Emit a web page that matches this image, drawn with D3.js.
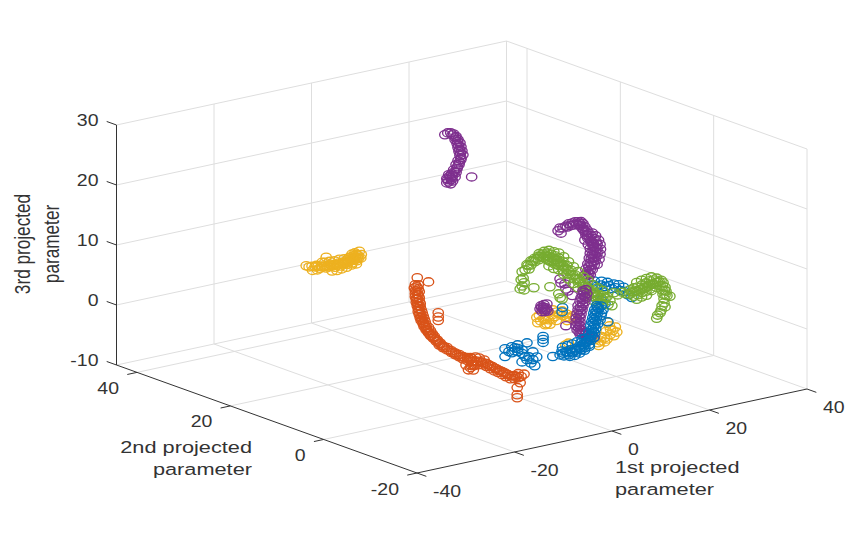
<!DOCTYPE html>
<html>
<head>
<meta charset="utf-8">
<script src="https://cdnjs.cloudflare.com/ajax/libs/d3/7.8.5/d3.min.js"></script>
<style>
body { margin: 0; background: white; }
text { font-family: "Liberation Sans", Arial, sans-serif; fill: #333; }
</style>
</head>
<body>
<svg id="chart" width="847" height="533"></svg>
<script>
"use strict";

//Axis limits and tick labels
var xTicks = [-40, -20, 0, 20, 40];
var yTicks = [-20, 0, 20, 40];
var zTicks = [-10, 0, 10, 20, 30];
var yMax = 44.4;

//Every cloud is a list of [1st, 3rd] projected parameters,
//the 2nd parameter of the cloud is given in the table further down
var purpleTop = [[4,27.5],[4.6,27.7],[5.2,27.6],[5.8,27.3],[6.3,26.8],[6.7,26.2],[6.1,26.3],[7.1,25.6],[6.5,25.6],[7.3,24.9],[6.7,24.9],[7.5,24.2],[6.9,24.2],[7.7,23.5],[7.1,23.5],[7.3,22.8],[6.7,22.7],[6.9,22],[6.3,22.1],[6.5,21.4],[5.8,21.3],[6.3,20.8],[5.4,20.7],[4.8,20.7],[6.1,20.1],[5.2,20.1],[4.4,20.1],[5.6,19.5],[4.8,19.5],[5.2,19.1],[4.4,19.4],[9.5,19.5],
	[5.5,27.2],[6.2,26.6],[6.6,25.9],[6.8,25.2],[7,24.5],[7.2,23.9],[7.3,23.1],[7,22.4],[6.6,21.7],[6,21],[5.6,20.4],[5,20.4],[4.6,19.9],[5.3,19.8]];

var yellowLeft = [[-5.3,1.7],[-4.7,1.4],[-4.1,1.4],[-3.5,1.2],[-2.9,1.2],[-2.5,0.8],[-1.9,0.9],[-1.2,0.6],[-0.6,0.7],[0,0.7],[0.6,0.4],[1.2,0.7],[1.8,0.4],[2.4,0.6],[3.1,0.5],[3.5,0.8],[4.1,0.5],[4.5,0.9],[5.1,0.7],[5.5,1.1],[4.9,1.4],[4.3,1.3],[3.7,1.2],[4.1,2],[4.7,2.1],[5.3,1.6],[5.9,1],[3.1,1.2],[2.2,1],[1.4,1],[0.6,0.9],[-0.4,1.1],[-1.2,2.4],
	[-3.2,1.4],[-2.2,1.1],[-1.6,1],[-0.9,0.9],[-0.3,0.9],[0.3,0.8],[0.9,0.7],[1.5,0.8],[2.1,0.8],[2.7,0.8],[3.3,0.9],[3.9,0.9],[4.4,1.1],[4.9,1],[5.2,1.2],[4.5,1.7],[3.9,1.6],[3.4,1.5],[5,1.8],
	[-1.5,1.6],[-0.5,1.6],[0.5,1.5],[1.5,1.6],[2.5,1.5],[0,-0.1],[1,-0.2],[2,-0.1],[3,0],[4,0.2],[-2,1.7],[-3,0.6],[-4,0.7],[5,0.2],[6,1.6],[5.6,2.2]];

var orangeBand = [[-20.8,13.6],[-18.5,12.5],[-21.2,12.5],[-20.6,12.4],[-21.4,12],[-20.6,11.7],[-21.2,11.5],[-20.4,11.2],[-21.2,11],[-20.6,10.7],[-21.2,10.5],[-20.4,10.2],[-21,10],[-20.4,9.7],[-21,9.5],[-20.2,9.2],[-20.8,8.9],[-20.2,8.7],[-20.6,8.4],[-20,8.1],[-20.6,7.9],[-19.8,7.6],[-20.4,7.4],[-19.6,7],[-20.2,6.8],[-19.4,6.5],[-20,6.3],[-19.2,6],[-19.6,5.7],[-19,5.4],[-19.4,5.2],[-18.5,4.9],[-19,4.6],[-18.1,4.3],[-18.5,4],[-17.7,3.7],[-18.1,3.5],[-17.3,3.2],[-17.5,2.9],[-16.7,2.5],[-16.9,2.3],[-16.1,1.9],[-16.3,1.6],[-15.5,1.3],[-15.5,1],[-14.7,0.9],[-14.7,0.5],[-13.8,0.2],[-13.8,-0.1],[-13,-0.3],[-13,-0.6],[-12.2,-0.7],[-12.2,-1.1],[-11.4,-1.2],[-11.4,-1.6],[-10.5,-1.5],[-10.5,-2],[-9.7,-1.8],[-9.7,-2.3],[-10.8,-2.7],[-9.9,-3.3],[-10.3,-3.6],[-9.3,-3.8],[-9.1,-3.1],[-9.9,-1.6],[-8.9,-1.7],[-8.1,-2],[-7.1,-2.5],[-8.7,-2.4],[-7.7,-2.7],[-8.3,-3.1],[-7.3,-3.3],[-6.4,-3.3],[-6.6,-3.7],[-5.8,-3.7],[-5.8,-4.2],[-5,-4.2],[-5,-4.7],[-4.2,-4.7],[-4.2,-5.1],[-3.4,-5.1],[-3.4,-5.6],[-2.6,-5.6],[-2.6,-6.1],[-1.7,-6.1],[-1.7,-6.6],[-0.9,-6.2],[-0.9,-6.7],[-0.1,-6],[-0.1,-6.7],[1.1,-6.3],[0.5,-6.6],[0.3,-7.6],[-0.3,-8.3],[-0.3,-9.5],[-0.3,-10],[-16.5,7],[-16.5,6.3],[-16.5,5.7],
	[-20.9,12.1],[-20.9,11.4],[-20.8,10.8],[-20.8,10.1],[-20.7,9.4],[-20.5,8.8],[-20.4,8.2],[-20.2,7.5],[-20,6.9],[-19.8,6.4],[-19.6,5.9],[-19.3,5.4],[-19,4.9],[-18.7,4.4],[-18.3,3.9],[-17.9,3.4],[-17.5,3.1],[-17.1,2.7],[-16.6,2.2],[-16.2,1.8],[-15.8,1.4],[-15.2,1],[-14.3,0.4],[-13.4,-0.2],[-12.6,-0.7],[-11.8,-1.1],[-11,-1.5],[-10.1,-1.9],[-9.3,-2.3],[-9.5,-2.8],[-8.5,-2.6],[-9.7,-3],[-7.5,-2.9],[-6.8,-3.1],[-6.2,-3.5],[-5.4,-3.9],[-4.6,-4.4],[-3.8,-4.9],[-3,-5.3],[-2.2,-5.8],[-1.3,-6.2],[-0.5,-6.4]];

var yellowCentre = [[13.3,-1.8],[13.5,-2.7],[14.1,-2.5],[14.7,-2.3],[15.3,-3.2],[15.7,-2.6],[16.6,-1.1],[17,-2.3],[17.4,-1.6],[18,-2],[18.6,-2.4],[19.2,-2.7],[20.1,-3],[20.7,-2.8],[27.8,-5.1],[28.9,-6.7],[29.7,-7.1],[28.3,-7.3],[29.1,-7.6],[27.2,-7.6],[26.4,-8],[27.2,-8.3],[25.8,-8.2],[19.8,-7.2],[19.2,-7.4],
	[15,-2.4],[16.4,-1.9],[19.4,-2.3],[28.4,-6.4],[27.7,-7.9],
	[13.8,-1.5],[15,-3.3],[16,-3.4],[16.4,-2.6],[17.3,-3],[18.5,-1.6],[19.5,-3.4],[21,-3.4],[26.6,-7.3],[27.5,-6.6],[28.2,-5.8],[29.4,-6.2],[25.2,-7.6],[26,-8.7]];

var blueUpper = [[15.2,6.1],[16,5.7],[16.9,5.8],[17.7,5.4],[18.5,5.4],[19.1,4.8],[19.9,4.8],[20.8,4.2],[21.6,3.9],[22.4,3.2],[23.2,2.6],[16,3.5],[16.9,3.2],[17.7,2.5],[9,3.4],[8.9,2.7],
	[15.5,6.7],[17,6.4],[18.2,6],[19.5,5.5],[20.5,5.2],[21.5,4.6]];

var purpleArc = [[3.3,18.6],[3.7,19],[3.9,18.1],[4.3,18.9],[4.9,19.1],[5.5,19.4],[6.2,19.4],[6.8,19.5],[7.4,19.4],[8,19.3],[8.4,18.9],[7.6,18.8],[8.8,18.3],[8.2,18.2],[9.2,17.7],[8.6,17.7],[9.6,17.1],[9,16.9],[10.1,16.6],[9.4,16.3],[10.7,16],[9.9,15.8],[11.1,15.4],[10.3,15.2],[11.3,14.9],[10.5,14.7],[11.3,14.2],[10.5,14],[11.3,13.5],[10.3,13.4],[11.1,12.9],[10.1,12.7],[10.9,12.3],[9.9,12.1],[10.7,11.6],[9.6,11.5],[10.3,10.9],[9.4,10.8],[9.9,10.1],[9.2,10.1],[3.7,10.5],[3.9,9.8],[4.7,9.5],[4.9,8.6],[5.3,8.2],[6.2,7.3],
	[5.2,18.9],[5.9,19],[6.5,19],[7.1,19],[7.7,19.1],[8,18.6],[8.5,18],[8.9,17.4],[9.3,16.8],[9.8,16.2],[10.2,15.6],[10.6,15.1],[10.9,14.5],[10.9,13.9],[10.8,13.3],[10.6,12.8],[10.5,12.2],[10.2,11.7],[9.9,11],[9.6,10.4],[9.5,9.6],
	[10.3,17],[11,16.4],[11.6,15.6],[11.9,14.8],[12,14],[11.9,13.2],[11.7,12.4],[11.3,11.6],[8.8,16.1],[9.5,15.2],[9.9,14.5],[9.9,13.7],[9.7,12.9],[9.4,12],[9,11.2],[8.8,10.3]];

var greenLeft = [[5.5,8.6],[5.3,7.3],[5.7,7.5],[5.9,6.7],[5.5,6.2],[5.1,5.8],[5.9,5.5],[7.9,5.5],[11.2,5.1],[6.1,8.8],[6.9,8.8],[6.5,9.6],[7.3,9.4],[7.3,10.1],[8.1,9.8],[8.1,10.4],[8.9,10],[8.9,10.6],[9.8,10.2],[9.8,10.8],[10.6,10.3],[10.6,9.7],[10.6,10.8],[11.4,10.5],[11.4,9.9],[11.4,9.2],[12.2,10.1],[12.2,9.4],[12.2,8.7],[13,9.6],[13,8.9],[13,8.3],[13.9,8.8],[13.9,8.1],[13.9,7.4],[14.7,8],[14.7,7.3],[14.7,6.6],[15.5,7.1],[15.5,6.3],[16.3,6.2],[16.3,5.5],[17.1,5.4],[17.1,4.7],[18,4.5],[18,3.9],[18.8,3.7],[18.8,3.1],[19.6,3.1],[19.6,2.4],[20.4,2.5],[20.4,1.8],[21.2,2],[21.2,1.3],[22.1,1.7],[22.1,1],[22.9,1.4],[23.5,0.6],[23.9,-0.3],[23.1,0],[13.3,2.9],[13,3.6],[13.7,2.6],
	[6.7,9.4],[7.7,10],[8.5,10.3],[9.3,10.5],[10.2,10.4],[11,10.2],[11,9.5],[11.8,9.8],[11.8,9.2],[12.6,9.3],[12.6,8.6],[13.4,8.5],[14.3,7.7],[15.1,7],[15.9,6.2],[16.7,5.5],[17.5,4.8],[18.4,3.9],[19.2,3.3],[20,2.5],[20.8,1.9],[21.6,1.5],[22.5,1.2],
	[9,11],[10,11.2],[11,11.2],[12,10.8],[13,10.4],[14,9.6],[15,8.6],[16,7.6],[17,6.6],[18,5.6],[19,4.8],[20,3.9],[21,3.2],[22,2.6],[11,8.6],[12,8],[13,7.6],[14,6.7],[15,5.7],[16,4.8],[17,3.9],[18,3.1],[19,2.2],[20,1.3],[21,0.6],[22,0.3]];

var greenRight = [[24.3,1.8],[25.1,1.3],[26,1.6],[26.8,1.2],[27.6,1.7],[27.6,1],[28.4,1.9],[28.4,1.2],[28.4,0.5],[29.2,1.9],[29.2,1.2],[29.2,0.6],[30.1,2.1],[30.1,1.4],[30.1,0.8],[30.9,2.3],[30.9,1.6],[30.9,0.9],[31.7,2.5],[31.7,1.8],[31.7,1.1],[32.5,2.5],[32.5,1.8],[33.1,2.7],[33.3,2],[34,2.2],[34.4,1.7],[33.8,1.3],[34.8,0.9],[34.2,0.5],[35,0.2],[34.4,-0.2],[35.2,-0.6],[34.6,-1],[35.8,-0.8],[34.6,-1.7],[34.2,-2.1],[34.8,-2.4],[34,-2.8],[33.8,-3.2],[33.3,-3.5],[33.1,-4],
	[28,1.3],[28.8,1.3],[29.6,1.4],[30.5,1.5],[31.3,1.6],[32.1,1.9],[32.9,2],[33.6,2],[34.3,1.2],[34.7,0.4],[34.8,-0.4],
	[29,2.7],[30,2.9],[31,3],[32,3.1],[29,-0.1],[30,0.1],[31,0.2],[32,0.8],[33,1.2]];

var purpleCentre = [[9,7.8],[8.4,7.7],[9.2,7.1],[8.4,7],[9,6.4],[8,6.6],[8.8,5.8],[7.8,6],[8.4,5.2],[7.4,5.4],[8.2,4.6],[7.4,4.7],[8,3.9],[7.2,4.1],[7.8,3.3],[7,3.4],[7.8,2.6],[7,2.8],[7.8,2],[7,2.1],[8,1.3],[7.2,1.4],[8.6,0.7],[7.8,0.6],[9.4,0.2],[10.3,-0.1],[10.7,-0.5],[9.4,-0.3],[-0.2,6.7],[0.4,6.8],[1,6.8],[-0.4,6.2],[0.2,6.1],[0.8,6.2],[0,5.7],[0.6,5.6],[1.2,5.6],[4.9,2.5],
	[8.6,7.4],[8.7,6.7],[8.4,6.2],[8.3,5.6],[7.9,5],[7.8,4.4],[7.6,3.7],[7.4,3],[7.4,2.3],[7.5,1.7],[7.6,1],[8.2,0.7],[8.9,0.3],[0.3,6.4],[0.5,5.9],[-0.1,6.4],[0.9,5.9]];

var blueLeft = [[-2.8,-1.4],[-2.8,-2.7],[-2,-2],[-1.4,-1.3],[-1.4,-2.3],[-0.8,-1.6],[-0.8,-2.1],[-0.2,-1.2],[-0.2,-1.8],[-0.2,-2.3],[0.7,-2.2],[0.7,-2.8],[1.7,-1.2],[1.7,-4],[0.7,-4.2],[1.3,-3.4],[2.1,-3.6],[2.9,-2.9],[2.9,-4.2],[3.7,-3.9],[3.3,-5.3],[2.5,-4.7],[7,-4.4],[5,-0.7],[5,-1.2],[5,-1.7]];

var blueLower = [[8.5,-4.4],[8.9,-3.8],[9.3,-4.7],[9.7,-4.1],[10.3,-4.7],[10.5,-3.9],[11.1,-4.5],[11.5,-3.9],[11.9,-4.5],[12.3,-3.7],[12.8,-4.3],[13.2,-3.5],[13.6,-4.1],[13.8,-3.3],[12.8,-3.1],[14.4,-3.7],[14.2,-2.9],[13.6,-2.6],[14.8,-3.1],[14.6,-2.4],[15.4,-2.7],[15,-2],[14.4,-1.7],[15.6,-2],[15,-1.3],[15.8,-1.3],[14.8,-0.6],[15.6,-0.6],[16.2,-0.6],[15,0],[15.8,0],[16.7,0],[15.2,0.6],[16,0.6],[16.9,0.7],[15.4,1.3],[16.2,1.3],[17,1.1],[15.6,1.9],[16.4,1.9],[17.3,1.6],[16,2.5],[16.9,2.3],[18.3,-0.6],
	[9.1,-4.2],[10,-4.3],[10.9,-4.3],[11.7,-4.2],[12.5,-4],[13.4,-3.8],[13.4,-3.3],[14,-3.1],[14.5,-2.9],[14.8,-2.2],[15.3,-1.7],[15.4,-1],[15.3,-0.3],[15.5,0.3],[15.7,1],[15.9,1.6],[16.2,2.2],
	[10,-3.1],[11,-3],[12,-2.8],[13,-2.5],[9,-3.2],[10.5,-5],[11.5,-5],[12.5,-4.8],[13.5,-4.5],[14.5,-4]];

//MATLAB default colour order
var blue = "#0072BD", orange = "#D95319", yellow = "#EDB120", purple = "#7E2F8E", green = "#77AC30";

//The clouds in painting order, first one ends up at the back
var clouds = [
	{points: yellowCentre, depth: 10, color: yellow},
	{points: yellowLeft, depth: 40, color: yellow},
	{points: purpleTop, depth: 20, color: purple},
	{points: blueUpper, depth: 0, color: blue},
	{points: purpleArc, depth: -5, color: purple},
	{points: greenLeft, depth: 5, color: green},
	{points: greenRight, depth: 5, color: green},
	{points: purpleCentre, depth: -5, color: purple},
	{points: blueLeft, depth: 0, color: blue},
	{points: blueLower, depth: 0, color: blue},
	{points: orangeBand, depth: 0, color: orange}
];

var svg = d3.select("#chart");

//Oblique projection of the MATLAB view: every data axis moves the
//screen position in both directions, starting from the front corner
var originX = 417, originY = 473;
var xToH = d3.scaleLinear().domain([-40, 40]).range([0, 390]);
var xToV = d3.scaleLinear().domain([-40, 40]).range([0, -84]);
var yToH = d3.scaleLinear().domain([-20, yMax]).range([0, -300.5]);
var yToV = d3.scaleLinear().domain([-20, yMax]).range([0, -108]);
var zToV = d3.scaleLinear().domain([-10, 30]).range([0, -240]);

function project(x, y, z) {
	return [originX + xToH(x) + yToH(y), originY + xToV(x) + yToV(y) + zToV(z)];
}

//Draw a straight segment between two data positions
function segment(parent, a, b, color, width) {
	var p = project(a[0], a[1], a[2]), q = project(b[0], b[1], b[2]);
	parent.append("line")
		.attr("x1", p[0]).attr("y1", p[1])
		.attr("x2", q[0]).attr("y2", q[1])
		.attr("stroke", color)
		.attr("stroke-width", width);
}

//The picture is stretched sideways so text gets wider too
var stretch = 1.25;
function label(x, y, txt, size, anchor) {
	svg.append("text")
		.attr("transform", "translate(" + x + "," + y + ") scale(" + stretch + ",1)")
		.attr("font-size", size)
		.attr("text-anchor", anchor)
		.text(txt);
}

//Grid on the floor and on the two back walls
var gridColor = "#dedede";
var grid = svg.append("g");
xTicks.forEach(function(x) {
	if (x > -40) {
		segment(grid, [x, -20, -10], [x, yMax, -10], gridColor, 1);
		segment(grid, [x, yMax, -10], [x, yMax, 30], gridColor, 1);
	}
});
yTicks.concat([yMax]).forEach(function(y) {
	if (y > -20) segment(grid, [-40, y, -10], [40, y, -10], gridColor, 1);
	segment(grid, [40, y, -10], [40, y, 30], gridColor, 1);
});
zTicks.forEach(function(z) {
	if (z > -10) {
		segment(grid, [-40, yMax, z], [40, yMax, z], gridColor, 1);
		segment(grid, [40, yMax, z], [40, -20, z], gridColor, 1);
	}
});

//Axes and tick marks
var axisColor = "#333333";
var axes = svg.append("g");
segment(axes, [-40, -20, -10], [40, -20, -10], axisColor, 1);
segment(axes, [-40, -20, -10], [-40, yMax, -10], axisColor, 1);
segment(axes, [-40, yMax, -10], [-40, yMax, 30], axisColor, 1);

xTicks.forEach(function(x) {
	segment(axes, [x, -20, -10], [x, -22, -10], axisColor, 1);
	var p = project(x, -20, -10);
	label(p[0] + 16, p[1] + 24, x, 15.6, "start");
});
yTicks.forEach(function(y) {
	segment(axes, [-40, y, -10], [-42, y, -10], axisColor, 1);
	var p = project(-40, y, -10);
	label(p[0] - 18, p[1] + 21.5, y, 15.6, "end");
});
zTicks.forEach(function(z) {
	segment(axes, [-40, yMax, z], [-40, yMax + 2.1, z], axisColor, 1);
	var p = project(-40, yMax, z);
	label(p[0] - 18, p[1] + 1, z, 15.6, "end");
});

//Axis titles
label(252, 453, "2nd projected", 17.4, "end");
label(252, 475, "parameter", 17.4, "end");
label(615, 473, "1st projected", 17.4, "start");
label(615, 495, "parameter", 17.4, "start");
["3rd projected", "parameter"].forEach(function(txt, i) {
	svg.append("text")
		.attr("transform", "translate(" + (30 + i * 29) + ",244) scale(" + stretch + ",1) rotate(-90)")
		.attr("font-size", 17.2)
		.attr("text-anchor", "middle")
		.text(txt);
});

//Scatter clouds, open circles come out as ellipses because of the stretch
clouds.forEach(function(cloud) {
	svg.append("g")
		.selectAll("ellipse")
		.data(cloud.points)
		.enter().append("ellipse")
			.attr("cx", function(d) { return project(d[0], cloud.depth, d[1])[0]; })
			.attr("cy", function(d) { return project(d[0], cloud.depth, d[1])[1]; })
			.attr("rx", 5.2)
			.attr("ry", 4.1)
			.attr("fill", "none")
			.attr("stroke", cloud.color)
			.attr("stroke-width", 1.35);
});
</script>
</body>
</html>
